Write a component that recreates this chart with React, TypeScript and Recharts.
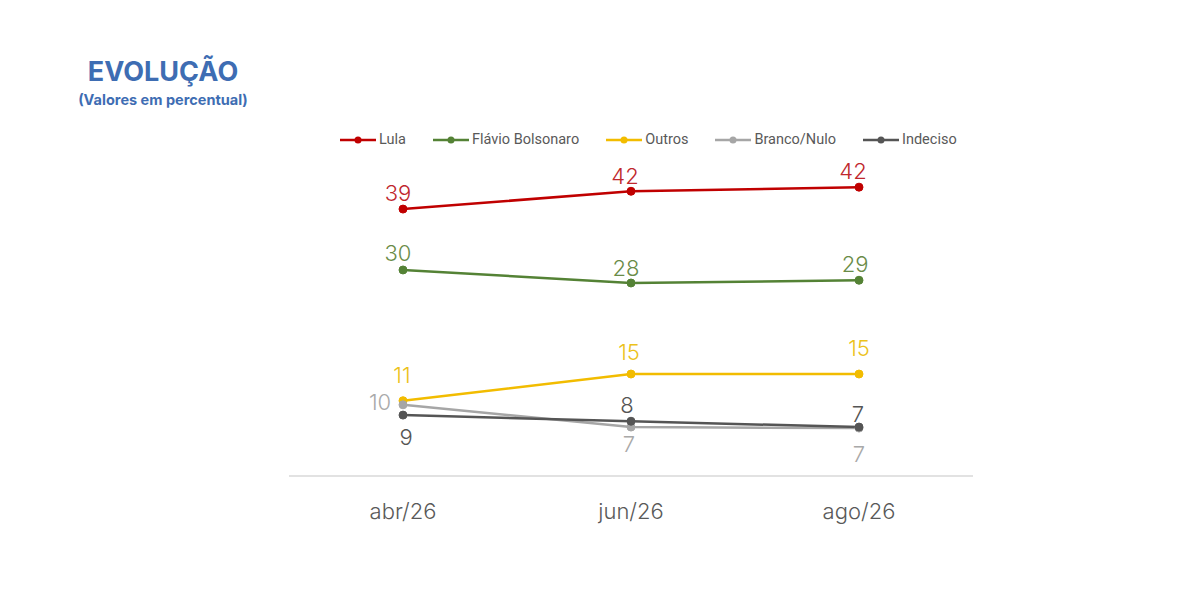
import React from 'react';
import { LineChart, Line, XAxis, YAxis, LabelList } from 'recharts';

const months = ['abr/26', 'jun/26', 'ago/26'];
const lula = [39.0, 41.6, 42.2];
const flavio = [30.1, 28.2, 28.6];
const outros = [11.0, 14.9, 14.9];
const branco = [10.4, 7.15, 7.0];
const indeciso = [8.9, 8.0, 7.15];

const data = months.map((m, i) => ({
  month: m,
  lula: lula[i],
  flavio: flavio[i],
  outros: outros[i],
  branco: branco[i],
  indeciso: indeciso[i],
}));

const FONT = 'Inter, "Open Sans", sans-serif';

const series = [
  { key: 'lula', name: 'Lula', color: '#c00000', labelColor: '#c0272d', offsets: [[-5, -16], [-6, -15], [-6, -16]] },
  { key: 'flavio', name: 'Flávio Bolsonaro', color: '#548235', labelColor: '#6a8c48', offsets: [[-5, -17], [-5, -15], [-4, -16]] },
  { key: 'outros', name: 'Outros', color: '#f2bc00', labelColor: '#ecc21a', offsets: [[-1, -26], [-2, -22], [0, -26]] },
  { key: 'branco', name: 'Branco/Nulo', color: '#a6a6a6', labelColor: '#a9a9a9', offsets: [[-23, -3], [-2, 17], [0, 26]] },
  { key: 'indeciso', name: 'Indeciso', color: '#555555', labelColor: '#555555', offsets: [[3, 22], [-4, -16], [-1, -13]] },
];

const makeLabel = (color: string, offsets: number[][]) => (props: any) => {
  const { x, y, value, index } = props;
  const [dx, dy] = offsets[index] || [0, -15];
  return (
    <text
      x={x + dx}
      y={y + dy}
      fill={color}
      fontSize={22}
      fontFamily={FONT}
      fontWeight={300}
      textAnchor="middle"
      dominantBaseline="central"
    >
      {Math.round(value)}
    </text>
  );
};

// legend drawn outside the chart so it doesn't push the plot area down
const ChartLegend = () => (
  <div
    style={{
      position: 'absolute',
      left: 340,
      top: 131,
      display: 'flex',
      alignItems: 'center',
      fontFamily: '"Liberation Sans Narrow", Roboto, sans-serif',
      fontSize: 14.5,
      color: '#595959',
    }}
  >
    {series.map((s) => (
      <div key={s.key} style={{ display: 'flex', alignItems: 'center', marginRight: 27 }}>
        <svg width={36} height={10} style={{ marginRight: 3 }}>
          <line x1={0} y1={5} x2={36} y2={5} stroke={s.color} strokeWidth={2.5} />
          <circle cx={18} cy={5} r={3.5} fill={s.color} />
        </svg>
        <span>{s.name}</span>
      </div>
    ))}
  </div>
);

export default function App() {
  return (
    <div style={{ position: 'absolute', left: 0, top: 0, width: 1200, height: 616, background: '#fff' }}>
      <div style={{ position: 'absolute', left: 58, top: 56, width: 210, textAlign: 'center', fontFamily: FONT, color: '#3e6db3', fontWeight: 700 }}>
        <div style={{ fontSize: 27, lineHeight: '32px' }}>EVOLUÇÃO</div>
        <div style={{ fontSize: 14.5, lineHeight: '20px', marginTop: 2 }}>(Valores em percentual)</div>
      </div>
      <ChartLegend />
      <div style={{ position: 'absolute', left: 0, top: 0 }}>
        <LineChart width={1200} height={616} data={data} margin={{ top: 168, right: 227, bottom: 80, left: 289 }}>
          <XAxis
            dataKey="month"
            height={60}
            padding={{ left: 114, right: 114 }}
            axisLine={{ stroke: '#d9d9d9', strokeWidth: 1.5 }}
            tickLine={false}
            tickMargin={21}
            tick={{ fill: '#595959', fontSize: 22, fontFamily: FONT, fontWeight: 300 }}
          />
          <YAxis hide domain={[0, 45]} />
          {series.map((s) => (
            <Line
              key={s.key}
              dataKey={s.key}
              name={s.name}
              stroke={s.color}
              strokeWidth={2.5}
              dot={{ r: 4, fill: s.color, stroke: s.color, strokeWidth: 1 }}
              isAnimationActive={false}
            >
              <LabelList dataKey={s.key} content={makeLabel(s.labelColor, s.offsets)} />
            </Line>
          ))}
        </LineChart>
      </div>
    </div>
  );
}
